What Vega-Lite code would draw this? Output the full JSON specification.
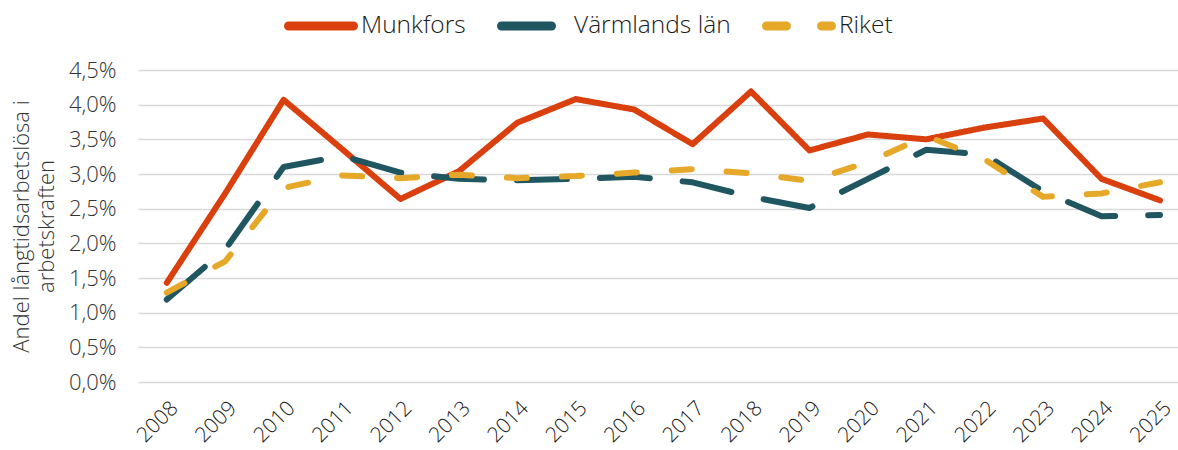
{
  "$schema": "https://vega.github.io/schema/vega-lite/v6.json",
  "width": 1040,
  "height": 312,
  "autosize": {"type": "none"},
  "padding": {"left": 138, "top": 70, "right": 0, "bottom": 68},
  "background": "white",
  "config": {"view": {"stroke": null}, "font": "Open Sans"},
  "data": {"values": [
    {"year": "2008", "serie": "Munkfors", "v": 1.43},
    {"year": "2009", "serie": "Munkfors", "v": 2.72},
    {"year": "2010", "serie": "Munkfors", "v": 4.07},
    {"year": "2011", "serie": "Munkfors", "v": 3.36},
    {"year": "2012", "serie": "Munkfors", "v": 2.64},
    {"year": "2013", "serie": "Munkfors", "v": 3.04},
    {"year": "2014", "serie": "Munkfors", "v": 3.74},
    {"year": "2015", "serie": "Munkfors", "v": 4.08},
    {"year": "2016", "serie": "Munkfors", "v": 3.93},
    {"year": "2017", "serie": "Munkfors", "v": 3.43},
    {"year": "2018", "serie": "Munkfors", "v": 4.19},
    {"year": "2019", "serie": "Munkfors", "v": 3.34},
    {"year": "2020", "serie": "Munkfors", "v": 3.57},
    {"year": "2021", "serie": "Munkfors", "v": 3.50},
    {"year": "2022", "serie": "Munkfors", "v": 3.67},
    {"year": "2023", "serie": "Munkfors", "v": 3.80},
    {"year": "2024", "serie": "Munkfors", "v": 2.93},
    {"year": "2025", "serie": "Munkfors", "v": 2.62},
    {"year": "2008", "serie": "Värmlands län", "v": 1.19},
    {"year": "2009", "serie": "Värmlands län", "v": 1.91},
    {"year": "2010", "serie": "Värmlands län", "v": 3.10},
    {"year": "2011", "serie": "Värmlands län", "v": 3.26},
    {"year": "2012", "serie": "Värmlands län", "v": 3.02},
    {"year": "2013", "serie": "Värmlands län", "v": 2.93},
    {"year": "2014", "serie": "Värmlands län", "v": 2.91},
    {"year": "2015", "serie": "Värmlands län", "v": 2.93},
    {"year": "2016", "serie": "Värmlands län", "v": 2.96},
    {"year": "2017", "serie": "Värmlands län", "v": 2.88},
    {"year": "2018", "serie": "Värmlands län", "v": 2.67},
    {"year": "2019", "serie": "Värmlands län", "v": 2.51},
    {"year": "2020", "serie": "Värmlands län", "v": 2.93},
    {"year": "2021", "serie": "Värmlands län", "v": 3.35},
    {"year": "2022", "serie": "Värmlands län", "v": 3.28},
    {"year": "2023", "serie": "Värmlands län", "v": 2.75},
    {"year": "2024", "serie": "Värmlands län", "v": 2.39},
    {"year": "2025", "serie": "Värmlands län", "v": 2.41},
    {"year": "2008", "serie": "Riket", "v": 1.29},
    {"year": "2009", "serie": "Riket", "v": 1.74},
    {"year": "2010", "serie": "Riket", "v": 2.80},
    {"year": "2011", "serie": "Riket", "v": 2.98},
    {"year": "2012", "serie": "Riket", "v": 2.94},
    {"year": "2013", "serie": "Riket", "v": 2.99},
    {"year": "2014", "serie": "Riket", "v": 2.94},
    {"year": "2015", "serie": "Riket", "v": 2.97},
    {"year": "2016", "serie": "Riket", "v": 3.02},
    {"year": "2017", "serie": "Riket", "v": 3.07},
    {"year": "2018", "serie": "Riket", "v": 3.01},
    {"year": "2019", "serie": "Riket", "v": 2.90},
    {"year": "2020", "serie": "Riket", "v": 3.17},
    {"year": "2021", "serie": "Riket", "v": 3.55},
    {"year": "2022", "serie": "Riket", "v": 3.21},
    {"year": "2023", "serie": "Riket", "v": 2.67},
    {"year": "2024", "serie": "Riket", "v": 2.72},
    {"year": "2025", "serie": "Riket", "v": 2.88}
  ]},
  "mark": {"type": "line", "strokeWidth": 6, "strokeCap": "round", "strokeJoin": "round"},
  "encoding": {
    "x": {
      "field": "year", "type": "ordinal",
      "scale": {"type": "point", "padding": 0.4, "align": 0.615},
      "axis": {
        "title": null, "labelAngle": -45, "labelFontSize": 21, "labelFontWeight": 300,
        "labelColor": "#1a1a1a", "domain": false, "ticks": false, "grid": false, "labelPadding": 15
      }
    },
    "y": {
      "field": "v", "type": "quantitative",
      "scale": {"domain": [0, 4.5], "nice": false},
      "axis": {
        "values": [0, 0.5, 1, 1.5, 2, 2.5, 3, 3.5, 4, 4.5],
        "labelExpr": "replace(format(datum.value, '.1f'), '.', ',') + '%'",
        "labelFontSize": 22, "labelFontWeight": 300, "labelColor": "#333333",
        "labelPadding": 22, "domain": false, "ticks": false,
        "grid": true, "gridColor": "#d9d9d9", "gridWidth": 1.5,
        "title": ["Andel långtidsarbetslösa i", "arbetskraften"],
        "titleFontSize": 22, "titleFontWeight": 300, "titleColor": "#333333",
        "titleLineHeight": 25, "titlePadding": 10
      }
    },
    "color": {
      "field": "serie", "type": "nominal",
      "scale": {"domain": ["Munkfors", "Värmlands län", "Riket"], "range": ["#d9400e", "#1f5660", "#e6a828"]},
      "legend": {
        "title": null, "orient": "none", "direction": "horizontal",
        "legendX": 146, "legendY": -81,
        "symbolType": "stroke", "symbolSize": 4225, "symbolStrokeWidth": 9,
        "labelFontSize": 24.5, "labelFontWeight": 300, "labelColor": "#1a1a1a",
        "labelOffset": 3, "columnPadding": 17,
        "encode": {"symbols": {"update": {"strokeCap": {"value": "round"}}}}
      }
    },
    "strokeDash": {
      "field": "serie", "type": "nominal",
      "scale": {"domain": ["Munkfors", "Värmlands län", "Riket"], "range": [[1, 0], [50, 33], [20, 35]]},
      "legend": {
        "title": null, "orient": "none", "direction": "horizontal",
        "legendX": 146, "legendY": -81,
        "symbolType": "stroke", "symbolSize": 4225, "symbolStrokeWidth": 9,
        "labelFontSize": 24.5, "labelFontWeight": 300, "labelColor": "#1a1a1a",
        "labelOffset": 3, "columnPadding": 17,
        "encode": {"symbols": {"update": {"strokeCap": {"value": "round"}}}}
      }
    }
  }
}
